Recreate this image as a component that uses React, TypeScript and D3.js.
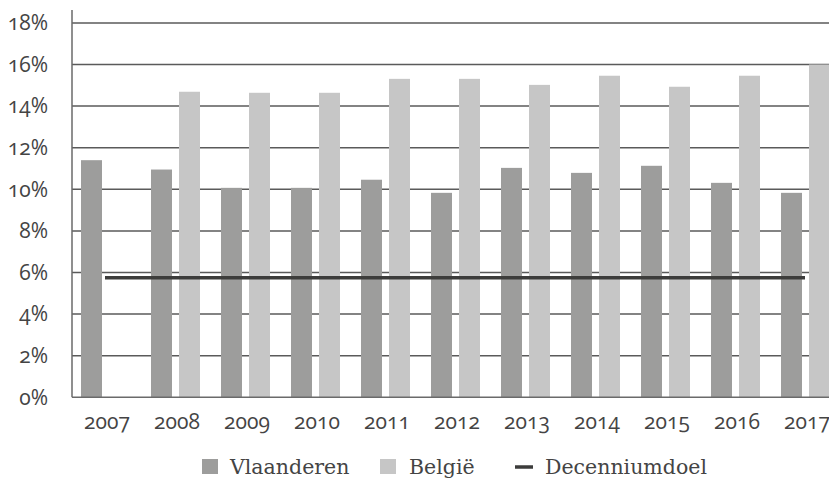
import React, { useEffect, useRef } from 'react';
import * as d3 from 'd3';

const years = ['2007', '2008', '2009', '2010', '2011', '2012', '2013', '2014', '2015', '2016', '2017'];
const vlaanderen = [11.4, 10.95, 10.07, 10.07, 10.46, 9.83, 11.03, 10.79, 11.13, 10.31, 9.83];
const belgie: (number | null)[] = [null, 14.69, 14.64, 14.64, 15.31, 15.31, 15.02, 15.46, 14.93, 15.46, 16.0];
const decenniumdoel = [5.75, 5.75, 5.75, 5.75, 5.75, 5.75, 5.75, 5.75, 5.75, 5.75, 5.75];
const yTicks = [0, 2, 4, 6, 8, 10, 12, 14, 16, 18];

const W = 829;
const H = 479;

export default function App() {
  const svgRef = useRef<SVGSVGElement>(null);

  useEffect(() => {
    document.body.style.margin = '0';
    if (!svgRef.current) return;
    const svg = d3.select(svgRef.current);
    svg.selectAll('*').remove();

    const left = 72, top = 10, bottom = 397.3;
    const x = d3.scaleBand<string>().domain(years).range([left, left + 70 * years.length]);
    const y = d3.scaleLinear().domain([0, 18]).range([bottom, bottom - 9 * 41.6]);

    const tickFont = '"Open Sans", Lato, sans-serif';
    const serif = '"DejaVu Serif", serif';
    const bw = 21;

    // gridlines
    svg.append('g').selectAll('line').data(yTicks.filter(t => t > 0)).join('line')
      .attr('x1', left).attr('x2', W)
      .attr('y1', d => y(d)).attr('y2', d => y(d))
      .attr('stroke', '#5a5a5a').attr('stroke-width', 1.5);

    // y tick labels
    svg.append('g').selectAll('text').data(yTicks).join('text')
      .attr('x', 48).attr('y', d => y(d))
      .attr('dy', '0.35em')
      .attr('text-anchor', 'end')
      .attr('font-family', tickFont).attr('font-size', 21)
      .style('font-feature-settings', '"onum" 1')
      .attr('fill', '#444')
      .text(d => `${d}%`);

    // Vlaanderen bars
    svg.append('g').selectAll('rect').data(vlaanderen).join('rect')
      .attr('x', (_, i) => (x(years[i]) as number) + 9)
      .attr('y', d => y(d))
      .attr('width', bw)
      .attr('height', d => bottom - y(d))
      .attr('fill', '#9d9d9c');

    // België bars
    const bel = svg.append('g');
    belgie.forEach((v, i) => {
      if (v == null) return;
      bel.append('rect')
        .attr('x', (x(years[i]) as number) + 37)
        .attr('y', y(v))
        .attr('width', bw)
        .attr('height', bottom - y(v))
        .attr('fill', '#c6c6c6');
    });

    // Decenniumdoel line
    const line = d3.line<number>()
      .x((_, i) => (x(years[i]) as number) + x.bandwidth() / 2 - 2)
      .y(d => y(d));
    svg.append('path').datum(decenniumdoel)
      .attr('d', line)
      .attr('fill', 'none')
      .attr('stroke', '#3c3c3b')
      .attr('stroke-width', 3.5);

    // axes
    svg.append('line').attr('x1', left).attr('x2', left).attr('y1', top).attr('y2', bottom)
      .attr('stroke', '#6a6a6a').attr('stroke-width', 1.5);
    svg.append('line').attr('x1', left).attr('x2', W).attr('y1', bottom).attr('y2', bottom)
      .attr('stroke', '#6a6a6a').attr('stroke-width', 1.5);

    // x labels
    svg.append('g').selectAll('text').data(years).join('text')
      .attr('x', d => (x(d) as number) + x.bandwidth() / 2)
      .attr('y', 429)
      .attr('text-anchor', 'middle')
      .attr('font-family', tickFont).attr('font-size', 21)
      .style('font-feature-settings', '"onum" 1')
      .attr('fill', '#444')
      .text(d => d);

    // legend
    const ly = 467;
    const lg = svg.append('g').attr('font-family', serif).attr('font-size', 20.5).attr('fill', '#444');
    lg.append('rect').attr('x', 202).attr('y', ly - 8).attr('width', 16).attr('height', 15).attr('fill', '#9d9d9c');
    lg.append('text').attr('x', 230).attr('y', ly).attr('dy', '0.35em').text('Vlaanderen');
    lg.append('rect').attr('x', 380).attr('y', ly - 8).attr('width', 16).attr('height', 15).attr('fill', '#c6c6c6');
    lg.append('text').attr('x', 409).attr('y', ly).attr('dy', '0.35em').text('België');
    lg.append('line').attr('x1', 515).attr('x2', 533).attr('y1', ly).attr('y2', ly)
      .attr('stroke', '#3c3c3b').attr('stroke-width', 3.5);
    lg.append('text').attr('x', 545).attr('y', ly).attr('dy', '0.35em').text('Decenniumdoel');
  }, []);

  return <svg ref={svgRef} width={W} height={H} style={{ display: 'block', overflow: 'hidden', background: '#fff' }} />;
}
